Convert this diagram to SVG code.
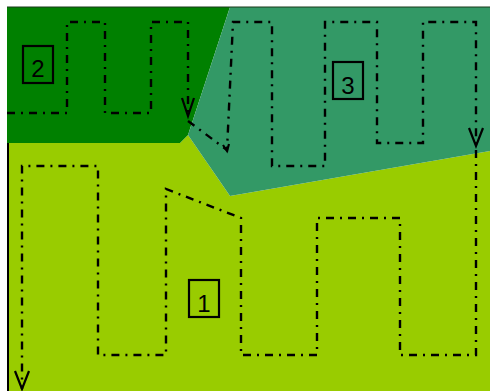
<svg xmlns="http://www.w3.org/2000/svg" width="492" height="391" viewBox="0 0 492 391">
<style>
.path{fill:none;stroke:#000;stroke-width:2.4;stroke-dasharray:8 6 2 6}
.arr{fill:none;stroke:#000;stroke-width:2.2}
.box{fill:none;stroke:#000;stroke-width:2.2}
.lbl{font-family:"Liberation Sans",Arial,sans-serif;font-size:24px;fill:#000;text-anchor:middle}
</style>
<rect width="492" height="391" fill="#fff"/>
<g id="areas">
<polygon id="area1" points="7,143 180,143 188,135 230,196 490,151 490,391 7,391" fill="#99cc00"/>
<polygon id="area2" points="7,7 230,7 188,135 180,143 7,143" fill="#008000"/>
<polygon id="area3" points="230,7 490,7 490,151 230,196 188,135" fill="#339966"/>
<line x1="7" y1="7" x2="490" y2="7" stroke="#1a3a1a" stroke-width="1"/>
<line x1="8" y1="143" x2="8" y2="391" stroke="#000" stroke-width="2"/>
</g>
<g id="connectors">
<polyline class="path" points="7,113 67,113 67,22 105,22 105,113 151,113 151,22 188,22 188,116"/>
<polyline class="arr" points="182,98 188,116 194,98"/>
<polyline class="path" points="188,121 227,150 233,22 272,22 272,166 325,166 325,22 377,22 377,143 423,143 423,22 476,22 476,146"/>
<polyline class="arr" points="223,145 227,151 229,144"/>
<polyline class="arr" points="469,128 476,146 483,128"/>
<polyline class="path" points="476,150 476,355 400,355 400,218 317,218 317,355 241,355 241,218 166,189 166,355 98,355 98,166 22,166 22,389"/>
<polyline class="arr" points="15,371 22,389 29,371"/>
</g>
<g id="node2">
<rect class="box" x="23" y="46" width="30" height="37"/>
<text class="lbl" x="38" y="77">2</text>
</g>
<g id="node3">
<rect class="box" x="333" y="62" width="30" height="37"/>
<text class="lbl" x="348" y="94">3</text>
</g>
<g id="node1">
<rect class="box" x="189" y="280" width="30" height="37"/>
<text class="lbl" x="204" y="312">1</text>
</g>
</svg>
